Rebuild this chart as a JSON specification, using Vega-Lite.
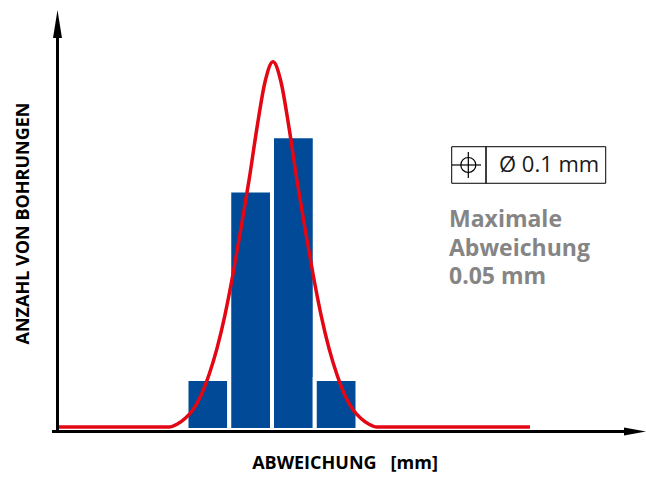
{
  "$schema": "https://vega.github.io/schema/vega-lite/v6.json",
  "width": 646,
  "height": 478,
  "autosize": "none",
  "padding": 0,
  "background": "white",
  "config": {"view": {"stroke": null}, "font": "Open Sans"},
  "datasets": {
    "bins": [
      {"bin_start": -0.05, "bin_end": -0.025, "count": 1.06},
      {"bin_start": -0.025, "bin_end": 0, "count": 4.99},
      {"bin_start": 0, "bin_end": 0.025, "count": 6.12},
      {"bin_start": 0.025, "bin_end": 0.05, "count": 1.06}
    ],
    "curve": [
      {"dev": -0.12456, "density": 0.0625},
      {"dev": -0.060234, "density": 0.0625},
      {"dev": -0.055555, "density": 0.12},
      {"dev": -0.050877, "density": 0.24},
      {"dev": -0.046199, "density": 0.42},
      {"dev": -0.04152, "density": 0.72},
      {"dev": -0.036842, "density": 1.15},
      {"dev": -0.032164, "density": 1.7},
      {"dev": -0.027485, "density": 2.4},
      {"dev": -0.022807, "density": 3.25},
      {"dev": -0.018128, "density": 4.2},
      {"dev": -0.01345, "density": 5.2},
      {"dev": -0.008772, "density": 6.3},
      {"dev": -0.004093, "density": 7.25},
      {"dev": 0.000585, "density": 7.67},
      {"dev": 0.005263, "density": 7.25},
      {"dev": 0.009942, "density": 6.3},
      {"dev": 0.01462, "density": 5.2},
      {"dev": 0.019298, "density": 4.2},
      {"dev": 0.023977, "density": 3.25},
      {"dev": 0.028655, "density": 2.4},
      {"dev": 0.033334, "density": 1.7},
      {"dev": 0.038012, "density": 1.15},
      {"dev": 0.04269, "density": 0.72},
      {"dev": 0.047369, "density": 0.42},
      {"dev": 0.052047, "density": 0.24},
      {"dev": 0.056725, "density": 0.12},
      {"dev": 0.061404, "density": 0.0625},
      {"dev": 0.15088, "density": 0.0625}
    ]
  },
  "layer": [
    {
      "data": {"name": "bins"},
      "mark": {"type": "rect", "color": "#004a97", "stroke": "white", "strokeWidth": 4},
      "encoding": {
        "x": {"field": "bin_start", "type": "quantitative", "axis": null, "scale": {"domain": [-0.159064, 0.218713], "nice": false, "zero": false}},
        "x2": {"field": "bin_end"},
        "y": {"field": "count", "type": "quantitative", "axis": null, "scale": {"domain": [-1, 8.958333], "nice": false, "zero": false}},
        "y2": {"datum": 0}
      }
    },
    {
      "data": {"name": "curve"},
      "mark": {"type": "line", "color": "#e30613", "strokeWidth": 3.5, "interpolate": "monotone"},
      "encoding": {
        "x": {"field": "dev", "type": "quantitative", "axis": null, "scale": {"domain": [-0.159064, 0.218713], "nice": false, "zero": false}},
        "y": {"field": "density", "type": "quantitative", "axis": null, "scale": {"domain": [-1, 8.958333], "nice": false, "zero": false}}
      }
    },
    {
      "data": {"values": [{}]},
      "layer": [
        {
          "mark": {"type": "rule", "color": "black", "strokeWidth": 3},
          "encoding": {
            "x": {"datum": -0.12865, "type": "quantitative", "axis": null, "scale": {"domain": [-0.159064, 0.218713], "nice": false, "zero": false}},
            "x2": {"datum": 0.20936},
            "y": {"datum": -0.031, "type": "quantitative", "axis": null, "scale": {"domain": [-1, 8.958333], "nice": false, "zero": false}}
          }
        },
        {
          "mark": {"type": "rule", "color": "black", "strokeWidth": 3},
          "encoding": {
            "x": {"datum": -0.12544, "type": "quantitative", "axis": null, "scale": {"domain": [-0.159064, 0.218713], "nice": false, "zero": false}},
            "y": {"datum": -0.0625, "type": "quantitative", "axis": null, "scale": {"domain": [-1, 8.958333], "nice": false, "zero": false}},
            "y2": {"datum": 8.333}
          }
        },
        {
          "mark": {"type": "point", "shape": "M0,-1L0.32,1L-0.32,1Z", "filled": true, "color": "black", "opacity": 1, "size": 784, "strokeWidth": 0},
          "encoding": {
            "x": {"datum": -0.12544, "type": "quantitative", "axis": null, "scale": {"domain": [-0.159064, 0.218713], "nice": false, "zero": false}},
            "y": {"datum": 8.458, "type": "quantitative", "axis": null, "scale": {"domain": [-1, 8.958333], "nice": false, "zero": false}}
          }
        },
        {
          "mark": {"type": "point", "shape": "M1,0L-1,-0.36L-1,0.36Z", "filled": true, "color": "black", "opacity": 1, "size": 484, "strokeWidth": 0},
          "encoding": {
            "x": {"datum": 0.21228, "type": "quantitative", "axis": null, "scale": {"domain": [-0.159064, 0.218713], "nice": false, "zero": false}},
            "y": {"datum": -0.031, "type": "quantitative", "axis": null, "scale": {"domain": [-1, 8.958333], "nice": false, "zero": false}}
          }
        },
        {
          "mark": {"type": "rect", "fill": null, "fillOpacity": 0, "stroke": "black", "strokeWidth": 1},
          "encoding": {
            "x": {"datum": 0.10509, "type": "quantitative", "axis": null, "scale": {"domain": [-0.159064, 0.218713], "nice": false, "zero": false}},
            "x2": {"datum": 0.12515},
            "y": {"datum": 5.14, "type": "quantitative", "axis": null, "scale": {"domain": [-1, 8.958333], "nice": false, "zero": false}},
            "y2": {"datum": 5.902}
          }
        },
        {
          "mark": {"type": "rect", "fill": null, "fillOpacity": 0, "stroke": "black", "strokeWidth": 1},
          "encoding": {
            "x": {"datum": 0.12515, "type": "quantitative", "axis": null, "scale": {"domain": [-0.159064, 0.218713], "nice": false, "zero": false}},
            "x2": {"datum": 0.19515},
            "y": {"datum": 5.14, "type": "quantitative", "axis": null, "scale": {"domain": [-1, 8.958333], "nice": false, "zero": false}},
            "y2": {"datum": 5.902}
          }
        },
        {
          "mark": {"type": "point", "shape": "circle", "filled": false, "stroke": "black", "strokeWidth": 1.2, "opacity": 1, "size": 225},
          "encoding": {
            "x": {"datum": 0.1148, "type": "quantitative", "axis": null, "scale": {"domain": [-0.159064, 0.218713], "nice": false, "zero": false}},
            "y": {"datum": 5.521, "type": "quantitative", "axis": null, "scale": {"domain": [-1, 8.958333], "nice": false, "zero": false}}
          }
        },
        {
          "mark": {"type": "rule", "color": "black", "strokeWidth": 1.2},
          "encoding": {
            "x": {"datum": 0.10526, "type": "quantitative", "axis": null, "scale": {"domain": [-0.159064, 0.218713], "nice": false, "zero": false}},
            "x2": {"datum": 0.12222},
            "y": {"datum": 5.521, "type": "quantitative", "axis": null, "scale": {"domain": [-1, 8.958333], "nice": false, "zero": false}}
          }
        },
        {
          "mark": {"type": "rule", "color": "black", "strokeWidth": 1.2},
          "encoding": {
            "x": {"datum": 0.1148, "type": "quantitative", "axis": null, "scale": {"domain": [-0.159064, 0.218713], "nice": false, "zero": false}},
            "y": {"datum": 5.25, "type": "quantitative", "axis": null, "scale": {"domain": [-1, 8.958333], "nice": false, "zero": false}},
            "y2": {"datum": 5.792}
          }
        },
        {
          "mark": {"type": "text", "text": "Ø 0.1 mm", "font": "Open Sans", "fontSize": 22, "align": "left", "baseline": "middle", "color": "#1a1a1a"},
          "encoding": {
            "x": {"datum": 0.13275, "type": "quantitative", "axis": null, "scale": {"domain": [-0.159064, 0.218713], "nice": false, "zero": false}},
            "y": {"datum": 5.521, "type": "quantitative", "axis": null, "scale": {"domain": [-1, 8.958333], "nice": false, "zero": false}}
          }
        },
        {
          "mark": {"type": "text", "text": ["Maximale", "Abweichung", "0.05 mm"], "font": "Open Sans", "fontSize": 23, "fontWeight": "bold", "lineHeight": 28.5, "align": "left", "baseline": "alphabetic", "color": "#858585"},
          "encoding": {
            "x": {"datum": 0.10351, "type": "quantitative", "axis": null, "scale": {"domain": [-0.159064, 0.218713], "nice": false, "zero": false}},
            "y": {"datum": 4.229, "type": "quantitative", "axis": null, "scale": {"domain": [-1, 8.958333], "nice": false, "zero": false}}
          }
        },
        {
          "mark": {"type": "text", "text": "ABWEICHUNG\u00a0\u00a0\u00a0[mm]", "font": "Open Sans", "fontSize": 18, "fontWeight": "bold", "align": "center", "baseline": "alphabetic", "color": "black"},
          "encoding": {
            "x": {"datum": 0.04269, "type": "quantitative", "axis": null, "scale": {"domain": [-0.159064, 0.218713], "nice": false, "zero": false}},
            "y": {"datum": -0.819, "type": "quantitative", "axis": null, "scale": {"domain": [-1, 8.958333], "nice": false, "zero": false}}
          }
        },
        {
          "mark": {"type": "text", "text": "ANZAHL VON BOHRUNGEN", "font": "Open Sans", "fontSize": 18, "fontWeight": "bold", "align": "center", "baseline": "middle", "angle": 270, "color": "black"},
          "encoding": {
            "x": {"datum": -0.14532, "type": "quantitative", "axis": null, "scale": {"domain": [-0.159064, 0.218713], "nice": false, "zero": false}},
            "y": {"datum": 4.302, "type": "quantitative", "axis": null, "scale": {"domain": [-1, 8.958333], "nice": false, "zero": false}}
          }
        }
      ]
    }
  ]
}
